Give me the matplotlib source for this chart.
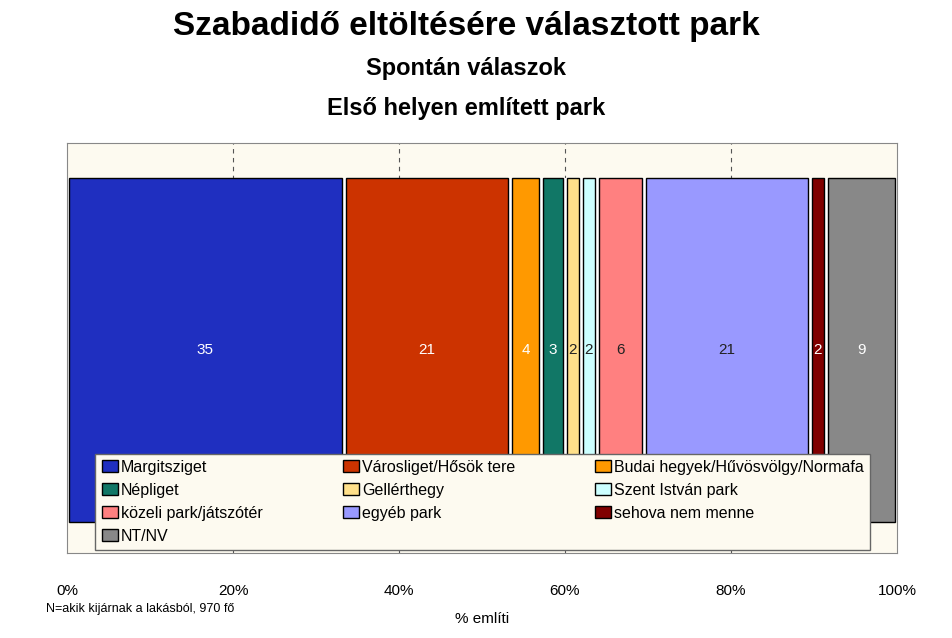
import matplotlib
matplotlib.use("Agg")
import matplotlib.pyplot as plt
from matplotlib.patches import Patch

plt.rcParams["font.family"] = "Liberation Sans"

categories = ["Margitsziget", "Városliget/Hősök tere", "Budai hegyek/Hűvösvölgy/Normafa",
              "Népliget", "Gellérthegy", "Szent István park", "közeli park/játszótér",
              "egyéb park", "sehova nem menne", "NT/NV"]
values = [35, 21, 4, 3, 2, 2, 6, 21, 2, 9]
colors = ["#1F2FC0", "#CC3300", "#FF9900", "#117766", "#FFE08A", "#CCFFFF",
          "#FF8080", "#9999FF", "#800000", "#888888"]
text_colors = ["white", "white", "white", "white", "#222222", "#222222",
               "#222222", "#222222", "white", "white"]
ticks = [0, 20, 40, 60, 80, 100]
tick_labels = ["0%", "20%", "40%", "60%", "80%", "100%"]

fig = plt.figure(figsize=(9.52, 6.38), dpi=100)
ax = fig.add_axes([0.0704, 0.133, 0.8718, 0.643])
ax.set_facecolor("#FDFAF0")
total = sum(values)
left = 0
for v, c, tc in zip(values, colors, text_colors):
    w = v / total * 100
    ax.barh(0.495, w, left=left, height=0.84, color="white", edgecolor="white", linewidth=0)
    ax.barh(0.495, w - 0.5, left=left + 0.25, height=0.84, color=c, edgecolor="black", linewidth=1)
    ax.text(left + w / 2, 0.495, str(v), ha="center", va="center", color=tc, fontsize=11)
    left += w
for t in ticks[1:-1]:
    ax.axvline(t, color="#555555", ls=(0, (4, 4)), lw=0.8, zorder=0)
ax.set_xlim(0, 100)
ax.set_ylim(0, 1)
ax.set_yticks([])
ax.set_xticks(ticks)
ax.set_xticklabels(tick_labels, fontsize=11)
ax.tick_params(axis="x", length=0, pad=22)
for s in ax.spines.values():
    s.set_color("#888888")
ax.set_xlabel("% említi", fontsize=11, labelpad=10)

handles = [Patch(facecolor=c, edgecolor="black") for c in colors]
order = [0, 3, 6, 9, 1, 4, 7, 2, 5, 8]
leg = ax.legend([handles[i] for i in order], [categories[i] for i in order],
                ncol=3, loc="lower left", bbox_to_anchor=(0.034, 0.007, 0.934, 0.27),
                mode="expand", fontsize=11.5, frameon=True, fancybox=False,
                handlelength=1.0, handleheight=0.8, handletextpad=0.2,
                borderaxespad=0, labelspacing=0.5, columnspacing=0.5)
leg.get_frame().set_facecolor("#FDFAF0")
leg.get_frame().set_edgecolor("#666666")
leg.get_frame().set_alpha(1)

fig.text(0.49, 0.958, "Szabadidő eltöltésére választott park", ha="center", va="center",
         fontsize=24, fontweight="bold")
fig.text(0.49, 0.893, "Spontán válaszok", ha="center", va="center", fontsize=17, fontweight="bold")
fig.text(0.49, 0.830, "Első helyen említett park", ha="center", va="center", fontsize=17, fontweight="bold")
fig.text(0.048, 0.045, "N=akik kijárnak a lakásból, 970 fő", ha="left", va="center", fontsize=9)

fig.savefig("out.png", dpi=100)
